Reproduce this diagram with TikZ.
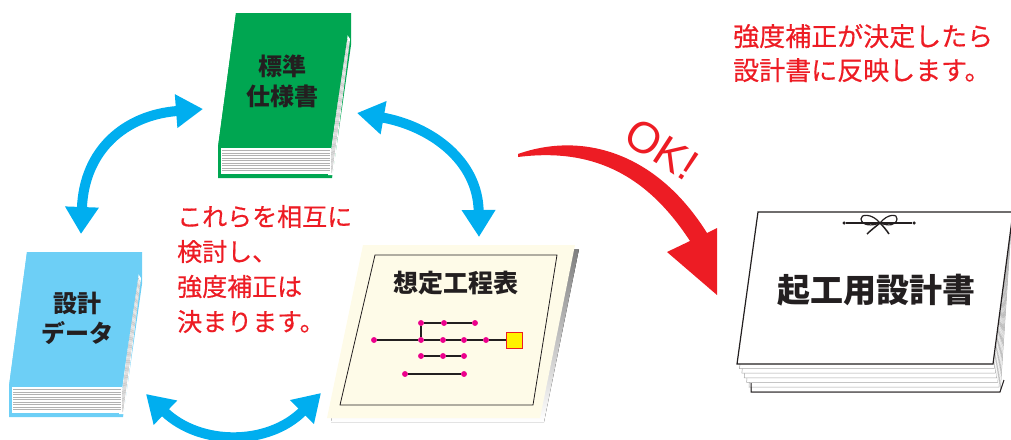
\documentclass[tikz,border=0pt]{standalone}
\usepackage{fontspec}
\setmainfont{Liberation Sans}
\newfontfamily\jp{Noto Sans CJK JP}
\newfontfamily\jpm[FakeBold=0.4]{Noto Sans CJK JP}
\usetikzlibrary{arrows.meta}

\definecolor{bookgreen}{HTML}{00A651}
\definecolor{bookblue}{HTML}{6DCFF6}
\definecolor{arrowcyan}{HTML}{00AEEF}
\definecolor{alertred}{HTML}{ED1C24}
\definecolor{inkdark}{HTML}{231F20}
\definecolor{paper}{HTML}{FEFBE8}
\definecolor{shade}{HTML}{6D6E71}
\definecolor{dotpink}{HTML}{EC008C}
\definecolor{boxyellow}{HTML}{FFF200}

\tikzset{
  pics/book/.style={code={
    % back cover and spine silhouette
    \fill[#1] (0,0) -- (115,0) -- (115,32) -- (96,165) -- (-18,165) -- (-18,134) -- cycle;
    % page edges on the right
    \fill[white] (110,20) -- (114,26) -- (97,162) -- (92,162) -- cycle;
    \foreach \k in {0,1,2,3}
      \draw[gray!60, line width=0.4pt] ({110.5+0.9*\k},{24+2*\k}) -- ({93+0.9*\k},160);
    % page edges at the bottom
    \fill[white] (-15,135) rectangle (95,161);
    \foreach \y in {137.5,140,...,159}
      \draw[gray!60, line width=0.5pt] (-14,\y) -- (94,\y);
    % front cover
    \fill[#1] (0,0) -- (115,0) -- (95,134) -- (-18,134) -- cycle;
  }},
  booktitle/.style={font=\jp\bfseries\fontsize{24}{30}\selectfont, text=inkdark, align=center, inner sep=0pt},
  note/.style={text=alertred, align=left, inner sep=0pt},
  cycarrow/.style={draw=arrowcyan, line width=10pt,
    arrows={Triangle[length=27pt,width=32pt]-Triangle[length=27pt,width=32pt]}},
  netdot/.style={circle, fill=dotpink, inner sep=0pt, minimum size=5.5pt},
  netline/.style={draw=inkdark, line width=2pt},
}

\begin{document}
\begin{tikzpicture}[x=1pt,y=-1pt]
\useasboundingbox (0,0) rectangle (1011,439);

% ---- reference books ----
\pic at (236,13) {book=bookgreen};
\node[booktitle] (spec) at (282,81) {標準\\仕様書};
\pic at (27,252) {book=bookblue};
\node[booktitle] (data) at (77,318) {設計\\データ};

% ---- assumed schedule sheet ----
\fill[shade] (367,249) -- (579,249) -- (544,422) -- (331,422) -- cycle;
\fill[paper] (363,245) -- (575,245) -- (540,418) -- (327,418) -- cycle;
\draw[inkdark, line width=0.8pt] (375,255) -- (557,255) -- (533,405) -- (340,405) -- cycle;
\node[font=\jp\bfseries\fontsize{25}{30}\selectfont, text=inkdark, inner sep=0pt] (sched) at (456,283) {想定工程表};

% network chart
\node[netdot] (n1) at (374,340) {};
\node[netdot] (n2) at (421,340) {};
\node[netdot] (n3) at (443,340) {};
\node[netdot] (n4) at (464,340) {};
\node[netdot] (n5) at (486,340) {};
\node[draw=alertred, fill=boxyellow, line width=0.8pt, minimum size=16pt, inner sep=0pt] (goal) at (514,340) {};
\node[netdot] (u1) at (421,323) {};
\node[netdot] (u2) at (444,323) {};
\node[netdot] (u3) at (475,323) {};
\node[netdot] (m1) at (421,356) {};
\node[netdot] (m2) at (443,356) {};
\node[netdot] (m3) at (464,356) {};
\node[netdot] (b1) at (405,374) {};
\node[netdot] (b2) at (464,374) {};
\draw[netline] (n1) -- (n2) -- (n3) -- (n4) -- (n5) -- (goal);
\draw[netline] (n2) -- (u1) -- (u2) -- (u3);
\draw[netline] (m1) -- (m2) -- (m3);
\draw[netline] (b1) -- (b2);
\foreach \d in {n1,n2,n3,n4,n5,u1,u2,u3,m1,m2,m3,b1,b2}
  \fill[dotpink] (\d) circle (2.8pt);

% ---- cyan exchange arrows ----
\coordinate (specL) at (203,109);
\coordinate (dataT) at (81,234);
\coordinate (specR) at (357,113);
\coordinate (schedT) at (479,237);
\coordinate (dataB) at (146,394);
\coordinate (schedL) at (321,393);
\draw[cycarrow] (dataT) .. controls (84,150) and (125,115) .. (specL);
\draw[cycarrow] (specR) .. controls (430,126) and (478,160) .. (schedT);
\draw[cycarrow] (dataB) .. controls (200,446) and (268,446) .. (schedL);

% ---- explanation (anchored at the baseline of the last line) ----
\node[note, font=\jpm\fontsize{25}{35}\selectfont, anchor=base west] (mid) at (177,331)
  {これらを相互に\\検討し、\\強度補正は\\決まります。};
\node[note, font=\jpm\fontsize{26}{34}\selectfont, anchor=base west] (top) at (733,80)
  {強度補正が決定したら\\設計書に反映します。};

% ---- red OK arrow ----
\fill[alertred] (518,154) .. controls (580,132) and (655,150) .. (707,233)
  -- (717,228) -- (717,295) -- (667,252) -- (690,241)
  .. controls (645,172) and (590,148) .. (518,157) -- cycle;
\node[text=alertred, font=\fontsize{44}{44}\selectfont, rotate=-33, inner sep=0pt] (ok) at (662,149) {OK!};

% ---- construction design document ----
\foreach \i in {6,5,...,1}
  \filldraw[fill=white, draw=gray!70, line width=0.5pt]
    (760,214) -- (1012,214) -- ({993+1.2*\i},{364+4.6*\i}) -- ({737+2.4*\i},{364+4.6*\i}) -- cycle;
\draw[inkdark, line width=1pt] (751,383) -- (751,392) -- (1000,392) -- (1004,380);
\filldraw[fill=white, draw=inkdark, line width=1.2pt] (758,212) -- (1013,212) -- (993,364) -- (737,364) -- cycle;
\node[font=\jp\bfseries\fontsize{33}{36}\selectfont, text=inkdark, inner sep=0pt] (final) at (876,290) {起工用設計書};

% ribbon tie
\node[circle, fill=inkdark, inner sep=0pt, minimum size=3.5pt] (tieL) at (844,223) {};
\node[circle, fill=inkdark, inner sep=0pt, minimum size=3.5pt] (tieR) at (914,223) {};
\coordinate (knot) at (880,223);
\draw[inkdark, line width=1.2pt] (tieL) -- (tieR);
\draw[inkdark, line width=1.2pt] (knot) .. controls (872,213) and (860,214) .. (861,219) .. controls (862,226) and (872,226) .. (knot);
\draw[inkdark, line width=1.2pt] (knot) .. controls (888,213) and (898,214) .. (897,219) .. controls (896,226) and (888,226) .. (knot);
\draw[inkdark, line width=1.5pt] (knot) .. controls (875,227) and (870,231) .. (867,234);
\draw[inkdark, line width=1.5pt] (knot) .. controls (884,227) and (887,231) .. (889,234);
\end{tikzpicture}
\end{document}
